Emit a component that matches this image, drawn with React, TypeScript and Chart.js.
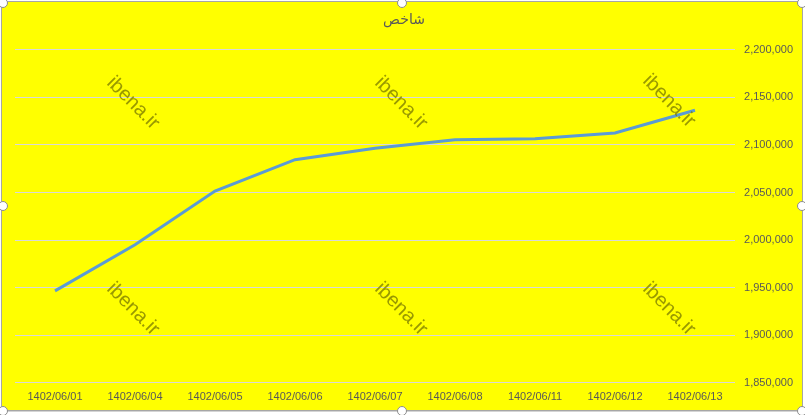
import { useEffect, useRef } from 'react';
import { Chart, registerables } from 'chart.js';

Chart.register(...registerables);

const dates = [
  '1402/06/01', '1402/06/04', '1402/06/05', '1402/06/06', '1402/06/07',
  '1402/06/08', '1402/06/11', '1402/06/12', '1402/06/13',
];
const indexValues = [
  1946600, 1995000, 2051500, 2084500, 2096500, 2105500, 2106500, 2112500, 2136500,
];
const yMin = 1850000;
const yMax = 2200000;
const yStep = 50000;
const title = 'شاخص';
const watermark = 'ibena.ir';

const textGray = '#595959';

const watermarkPlugin = {
  id: 'watermark',
  afterDatasetsDraw(chart: Chart) {
    const { ctx } = chart;
    const spots = [
      [133, 103], [401, 103], [669, 101],
      [133, 309], [401, 309], [669, 309],
    ];
    ctx.save();
    ctx.font = '20px "Liberation Sans", Arial, sans-serif';
    ctx.fillStyle = 'rgba(128, 128, 0, 0.8)';
    ctx.textAlign = 'center';
    ctx.textBaseline = 'middle';
    for (const [x, y] of spots) {
      ctx.save();
      ctx.translate(x, y);
      ctx.rotate(Math.PI / 4);
      ctx.fillText(watermark, 0, 0);
      ctx.restore();
    }
    ctx.restore();
  },
};

function Handle({ x, y }: { x: number; y: number }) {
  return (
    <div
      style={{
        position: 'absolute',
        left: x - 5,
        top: y - 5,
        width: 8,
        height: 8,
        borderRadius: '50%',
        background: '#fff',
        border: '1px solid #8c8c8c',
      }}
    />
  );
}

export default function App() {
  const canvasRef = useRef<HTMLCanvasElement>(null);
  const chartRef = useRef<Chart | null>(null);

  useEffect(() => {
    if (!canvasRef.current) return;
    if (chartRef.current) chartRef.current.destroy();

    chartRef.current = new Chart(canvasRef.current, {
      type: 'line',
      data: {
        labels: dates,
        datasets: [{
          label: title,
          data: indexValues,
          borderColor: '#5b9bd5',
          borderWidth: 3,
          pointRadius: 0,
          tension: 0,
          fill: false,
        }],
      },
      options: {
        responsive: false,
        animation: false,
        layout: { padding: { top: 8, right: 12, bottom: 3, left: 15 } },
        plugins: {
          legend: { display: false },
          tooltip: { enabled: false },
          title: {
            display: true,
            text: title,
            color: textGray,
            font: { family: '"DejaVu Sans", sans-serif', size: 14, weight: 'normal' },
            padding: { top: 4, bottom: 21 },
          },
        },
        scales: {
          x: {
            offset: true,
            grid: { display: false, drawTicks: false },
            border: { display: false },
            ticks: {
              color: textGray,
              padding: 8,
              maxRotation: 0,
              autoSkip: false,
              font: { family: '"Liberation Sans", Arial, sans-serif', size: 11 },
            },
          },
          y: {
            position: 'right',
            min: yMin,
            max: yMax,
            grid: { color: '#d9d9d9', lineWidth: 1, drawTicks: false },
            border: { display: false },
            afterFit(scale: any) { scale.width = 58; },
            ticks: {
              stepSize: yStep,
              color: textGray,
              crossAlign: 'far',
              font: { family: '"Liberation Sans", Arial, sans-serif', size: 11 },
              callback: (v: any) => Number(v).toLocaleString('en-US'),
            },
          },
        },
      },
      plugins: [watermarkPlugin],
    });

    return () => chartRef.current?.destroy();
  }, []);

  const handles = [
    [3, 3], [402, 3], [802, 3],
    [3, 206], [802, 206],
    [3, 411], [402, 411], [802, 411],
  ];

  return (
    <div style={{ position: 'fixed', left: 0, top: 0, width: 805, height: 415, background: '#fff', overflow: 'hidden' }}>
      <div style={{ position: 'absolute', left: 0, top: 411, width: 805, height: 1, background: '#d4d4d4' }} />
      <div
        style={{
          position: 'absolute',
          left: 1,
          top: 1,
          width: 800,
          height: 408,
          background: '#ffff00',
          border: '1px solid #a6a6a6',
          borderRadius: 3,
        }}
      />
      <canvas ref={canvasRef} width={805} height={415} style={{ position: 'absolute', left: 0, top: 0 }} />
      {handles.map(([x, y], i) => <Handle key={i} x={x} y={y} />)}
    </div>
  );
}
